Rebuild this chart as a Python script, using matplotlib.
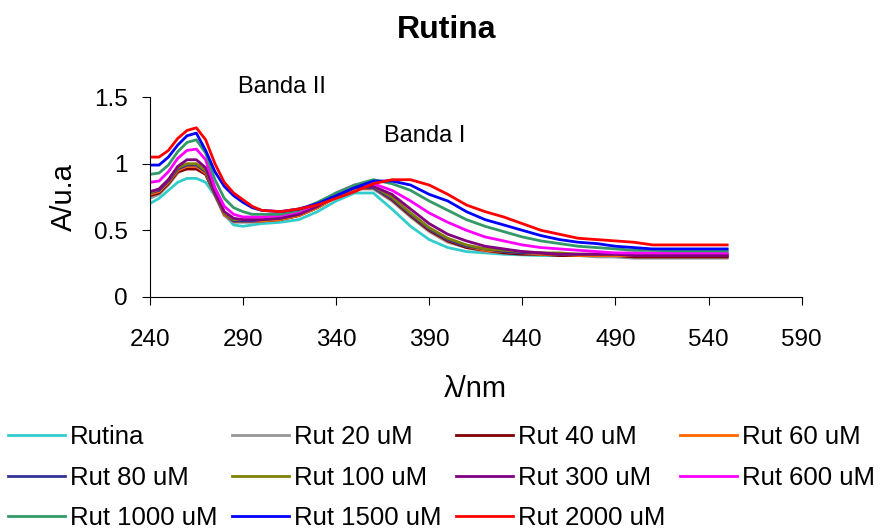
import matplotlib
matplotlib.use("Agg")
import matplotlib.pyplot as plt

plt.rcParams['font.family'] = ['Liberation Sans', 'DejaVu Sans']

# Longitud de onda (nm)
wl = [240, 245, 250, 255, 260, 265, 270, 275, 280, 285, 290, 295, 300,
      310, 320, 330, 340, 350, 360, 370, 380, 390, 400, 410, 420, 430,
      440, 450, 460, 470, 480, 490, 500, 510, 520, 530, 540, 550]

rutina = [0.70, 0.74, 0.80, 0.86, 0.89, 0.89, 0.86, 0.76, 0.62, 0.54, 0.53, 0.54, 0.55,
          0.56, 0.58, 0.64, 0.72, 0.78, 0.78, 0.66, 0.53, 0.43, 0.37, 0.34, 0.33, 0.32,
          0.315, 0.31, 0.31, 0.31, 0.31, 0.30, 0.30, 0.30, 0.30, 0.30, 0.30, 0.30]
rut20 = [0.74, 0.77, 0.84, 0.93, 0.97, 0.97, 0.92, 0.76, 0.61, 0.56, 0.56, 0.56, 0.57,
         0.58, 0.61, 0.67, 0.75, 0.81, 0.81, 0.72, 0.60, 0.49, 0.41, 0.37, 0.34, 0.33,
         0.32, 0.32, 0.31, 0.31, 0.30, 0.30, 0.29, 0.29, 0.29, 0.29, 0.29, 0.29]
rut40 = [0.76, 0.78, 0.85, 0.94, 0.96, 0.96, 0.92, 0.77, 0.62, 0.57, 0.57, 0.57, 0.57,
         0.58, 0.61, 0.67, 0.75, 0.81, 0.82, 0.73, 0.61, 0.50, 0.42, 0.37, 0.35, 0.33,
         0.32, 0.32, 0.31, 0.31, 0.31, 0.31, 0.30, 0.30, 0.30, 0.30, 0.30, 0.30]
rut60 = [0.77, 0.79, 0.86, 0.95, 0.98, 0.98, 0.93, 0.78, 0.62, 0.57, 0.57, 0.57, 0.57,
         0.58, 0.61, 0.67, 0.75, 0.81, 0.82, 0.74, 0.62, 0.51, 0.43, 0.38, 0.35, 0.34,
         0.33, 0.32, 0.32, 0.31, 0.31, 0.31, 0.31, 0.31, 0.31, 0.31, 0.31, 0.31]
rut80 = [0.78, 0.80, 0.87, 0.96, 0.99, 0.99, 0.94, 0.78, 0.63, 0.57, 0.57, 0.57, 0.58,
         0.59, 0.62, 0.68, 0.76, 0.82, 0.82, 0.74, 0.62, 0.51, 0.43, 0.38, 0.36, 0.34,
         0.33, 0.33, 0.32, 0.32, 0.32, 0.32, 0.32, 0.32, 0.32, 0.32, 0.32, 0.32]
rut100 = [0.78, 0.81, 0.88, 0.97, 1.00, 1.00, 0.95, 0.79, 0.63, 0.58, 0.58, 0.58, 0.58,
          0.59, 0.62, 0.68, 0.76, 0.82, 0.83, 0.75, 0.63, 0.52, 0.44, 0.39, 0.36, 0.35,
          0.34, 0.33, 0.33, 0.32, 0.32, 0.32, 0.32, 0.32, 0.32, 0.31, 0.31, 0.31]
rut300 = [0.79, 0.81, 0.88, 0.98, 1.03, 1.03, 0.97, 0.79, 0.64, 0.59, 0.58, 0.58, 0.58,
          0.59, 0.62, 0.68, 0.76, 0.82, 0.83, 0.77, 0.66, 0.55, 0.47, 0.42, 0.38, 0.36,
          0.34, 0.33, 0.32, 0.32, 0.32, 0.32, 0.31, 0.31, 0.31, 0.31, 0.31, 0.31]
rut600 = [0.86, 0.87, 0.94, 1.04, 1.10, 1.11, 1.03, 0.82, 0.68, 0.62, 0.60, 0.60, 0.60,
          0.61, 0.64, 0.70, 0.78, 0.84, 0.85, 0.80, 0.72, 0.63, 0.56, 0.50, 0.45, 0.42,
          0.39, 0.37, 0.36, 0.35, 0.34, 0.33, 0.33, 0.33, 0.33, 0.33, 0.33, 0.33]
rut1000 = [0.92, 0.93, 0.99, 1.09, 1.16, 1.18, 1.08, 0.88, 0.74, 0.67, 0.64, 0.62, 0.62,
           0.62, 0.65, 0.71, 0.78, 0.84, 0.88, 0.85, 0.80, 0.72, 0.65, 0.58, 0.53, 0.49,
           0.45, 0.42, 0.40, 0.38, 0.37, 0.36, 0.35, 0.35, 0.345, 0.345, 0.345, 0.345]
rut1500 = [0.99, 0.99, 1.05, 1.14, 1.21, 1.23, 1.10, 0.94, 0.83, 0.76, 0.71, 0.67, 0.65,
           0.64, 0.66, 0.70, 0.76, 0.82, 0.87, 0.87, 0.84, 0.77, 0.72, 0.64, 0.58, 0.54,
           0.50, 0.46, 0.43, 0.41, 0.40, 0.38, 0.37, 0.36, 0.36, 0.36, 0.36, 0.36]
rut2000 = [1.05, 1.05, 1.10, 1.19, 1.25, 1.27, 1.18, 1.00, 0.86, 0.78, 0.73, 0.68, 0.65,
           0.64, 0.66, 0.69, 0.74, 0.79, 0.85, 0.88, 0.88, 0.84, 0.77, 0.69, 0.64, 0.60,
           0.55, 0.50, 0.47, 0.44, 0.43, 0.42, 0.41, 0.39, 0.39, 0.39, 0.39, 0.39]

series = [rutina, rut20, rut40, rut60, rut80, rut100, rut300, rut600, rut1000, rut1500, rut2000]
labels = ['Rutina', 'Rut 20 uM', 'Rut 40 uM', 'Rut 60 uM', 'Rut 80 uM', 'Rut 100 uM',
          'Rut 300 uM', 'Rut 600 uM', 'Rut 1000 uM', 'Rut 1500 uM', 'Rut 2000 uM']
colors = ['#33CCCC', '#969696', '#800000', '#FF6600', '#333399', '#808000',
          '#800080', '#FF00FF', '#339966', '#0000FF', '#FF0000']

fig = plt.figure(figsize=(8.81, 5.31), dpi=100)
ax = fig.add_axes([0.170, 0.441, 0.740, 0.376])

lines = []
for y, lab, c in zip(series, labels, colors):
    ln, = ax.plot(wl, y, color=c, lw=2, label=lab)
    lines.append(ln)

ax.set_xlim(240, 590)
ax.set_ylim(0, 1.5)
ax.set_xticks([240, 290, 340, 390, 440, 490, 540, 590])
ax.set_yticks([0, 0.5, 1, 1.5])
ax.set_yticklabels(['0', '0.5', '1', '1.5'])
ax.tick_params(labelsize=17.5, length=6, direction='out')
ax.tick_params(axis='x', pad=17)
ax.tick_params(axis='y', pad=10)
ax.spines['top'].set_visible(False)
ax.spines['right'].set_visible(False)

ax.set_ylabel('A/u.a', fontsize=21)
ax.yaxis.set_label_coords(-0.11, 0.5)
ax.set_xlabel('λ/nm', fontsize=21)
ax.xaxis.set_label_coords(0.5, -0.39)

ax.text(287.4, 1.575, 'Banda II', fontsize=17, va='center')
ax.text(365.5, 1.21, 'Banda I', fontsize=17, va='center')

fig.text(447 / 881, 1 - 30 / 531, 'Rutina', fontsize=23, fontweight='bold',
         ha='center', va='center')

# leyenda por filas (matplotlib llena por columnas)
order = [0, 4, 8, 1, 5, 9, 2, 6, 10, 3, 7]
fig.legend([lines[i] for i in order], [labels[i] for i in order],
           loc='upper left', bbox_to_anchor=(8 / 881, 0.2), ncol=4, frameon=False,
           fontsize=18.5, handlelength=2.2, handletextpad=0.2, columnspacing=0.58,
           labelspacing=0.65, borderpad=0, borderaxespad=0)

fig.savefig('out.png', dpi=100)
